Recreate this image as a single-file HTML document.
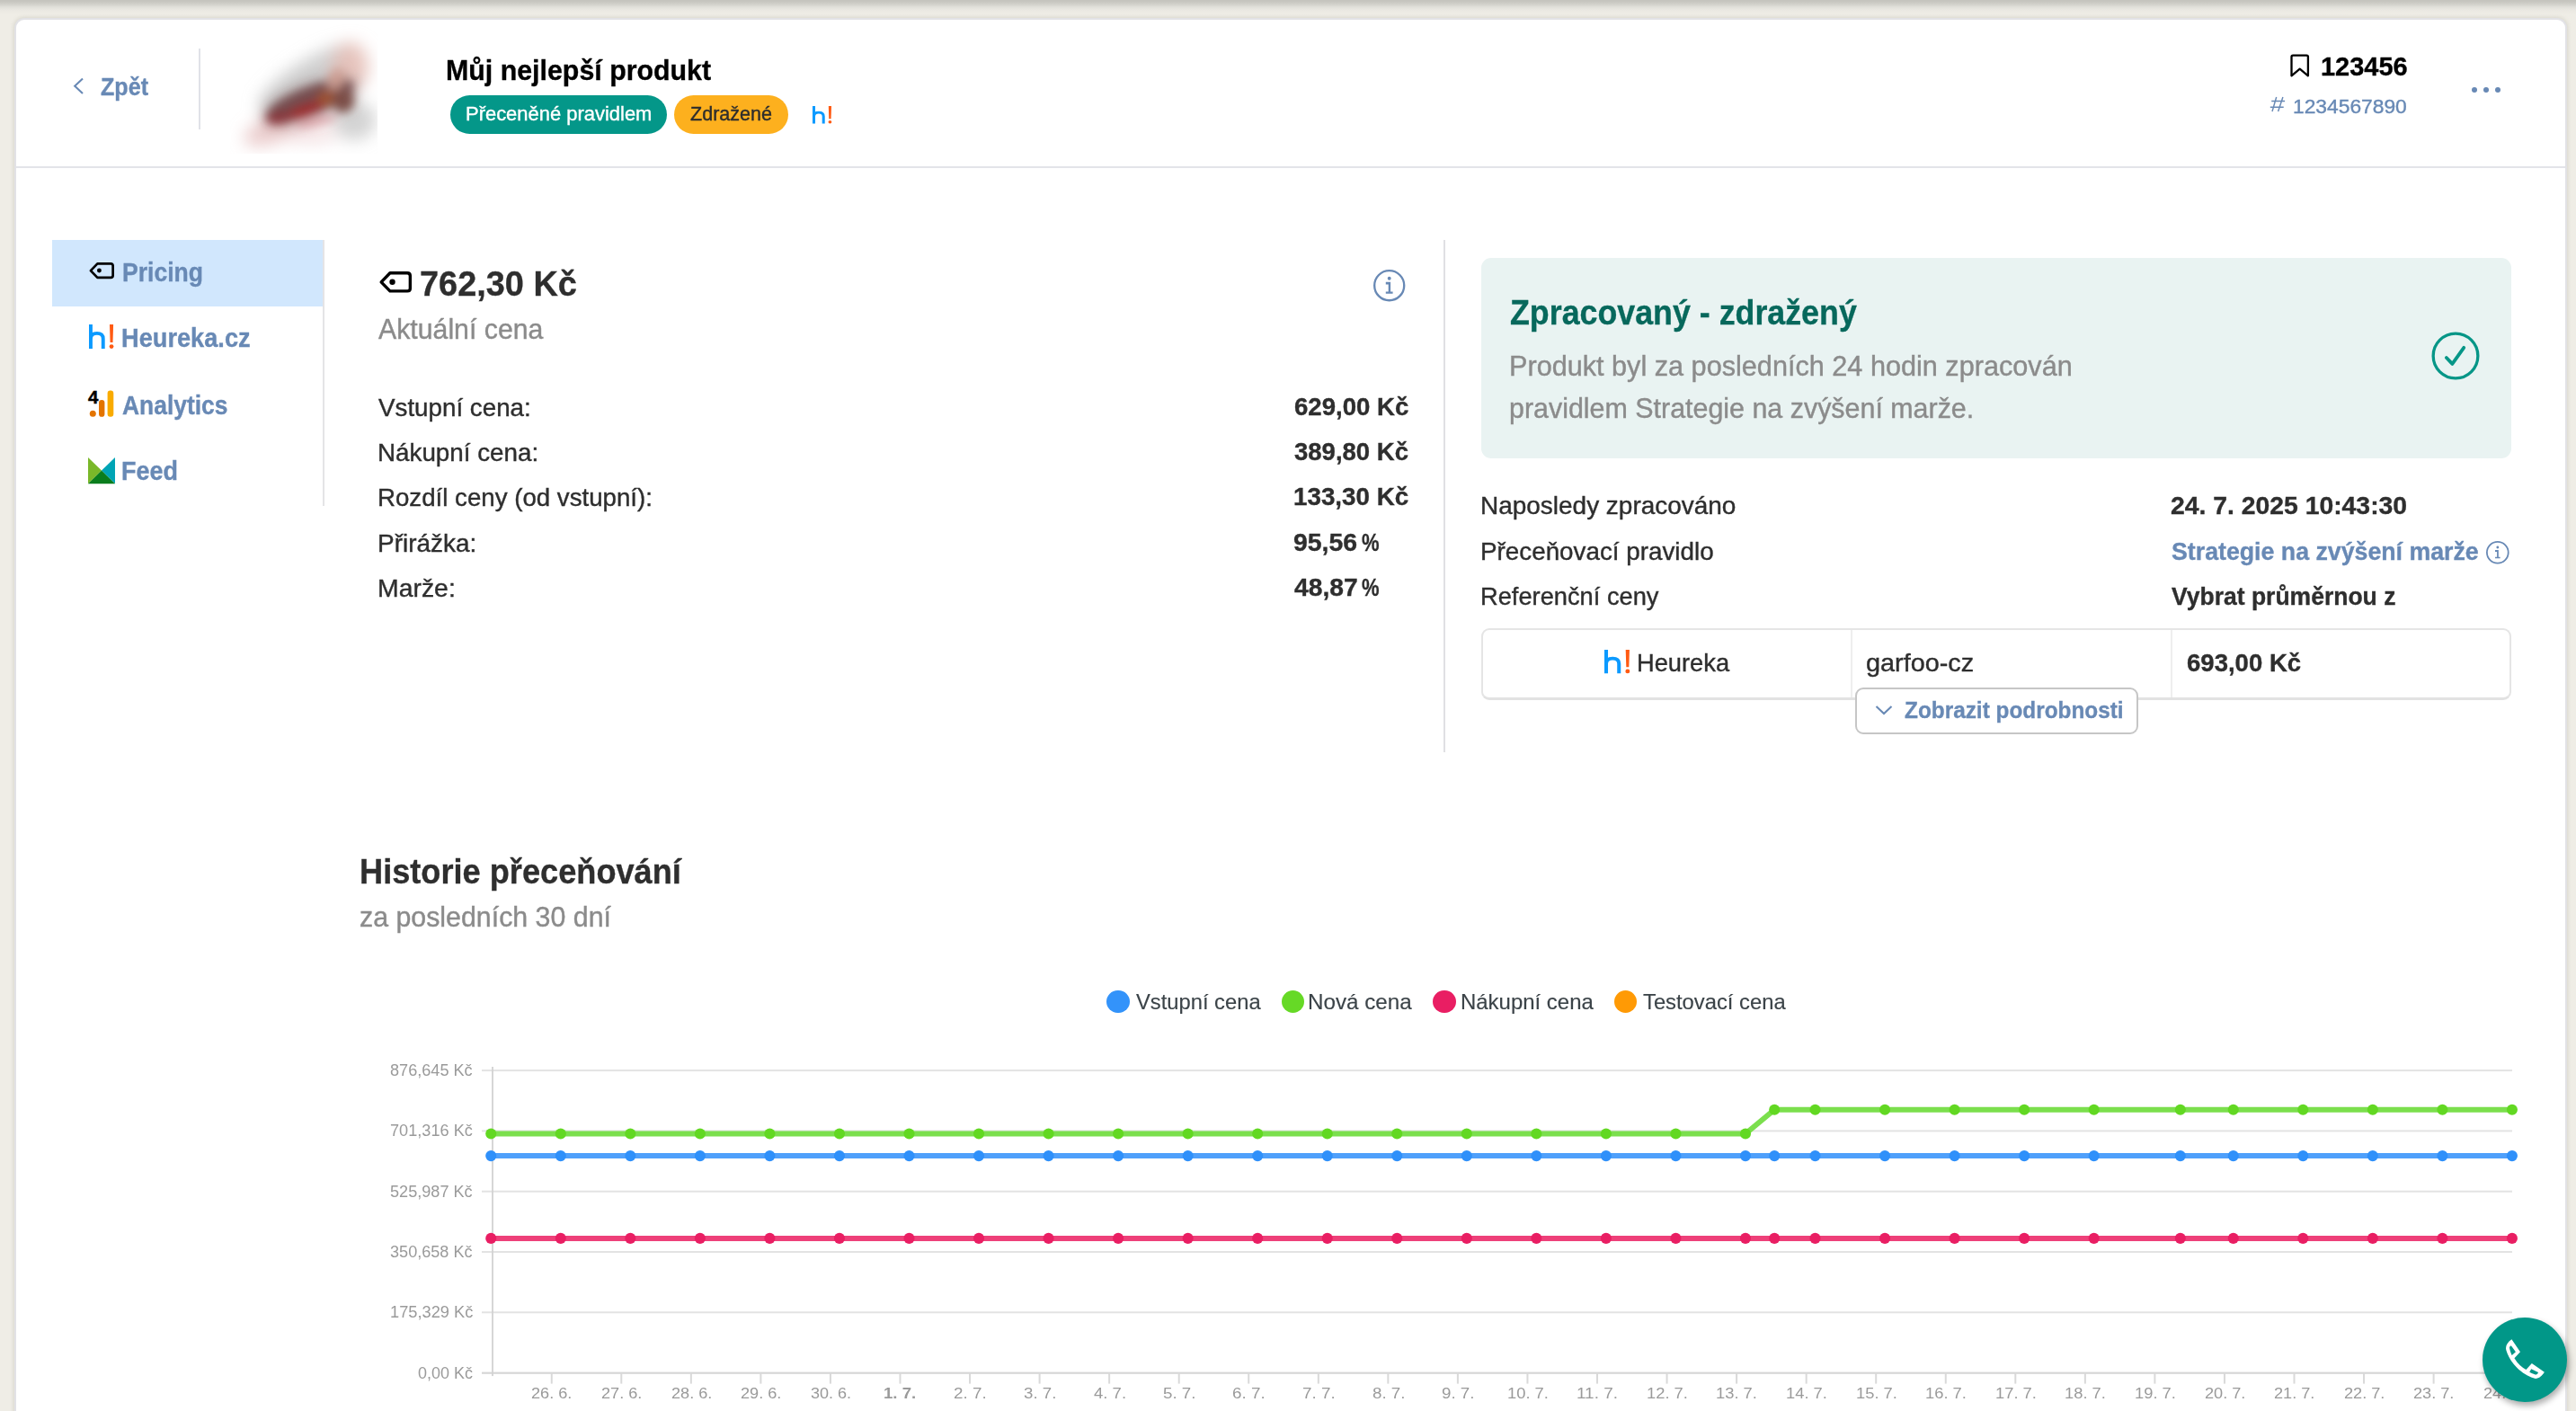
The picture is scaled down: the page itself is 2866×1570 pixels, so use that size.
<!DOCTYPE html>
<html><head><meta charset="utf-8"><title>Produkt</title><style>
*{margin:0;padding:0;box-sizing:border-box}
html,body{width:2866px;height:1570px;overflow:hidden}
body{background:#efede6;font-family:"Liberation Sans",sans-serif;position:relative}
.t{position:absolute;white-space:nowrap;line-height:1;transform-origin:0 0}
.a{position:absolute}
svg{position:absolute;overflow:visible}
</style></head><body>
<div class="a" style="left:0;top:0;width:2866px;height:17px;background:linear-gradient(#c4c3bd 0,#c8c7c1 2px,#d3d2cc 5px,#e1e0da 8px,#eae8e2 11px,#efede6 16px)"></div>
<div class="a" style="left:18px;top:22px;width:2836px;height:1600px;background:#fff;border-radius:9px 9px 0 0;box-shadow:0 0 0 2px #e2e2e6, 0 0 5px 2px rgba(140,140,115,.32)"></div>
<div class="a" style="left:18px;top:184.5px;width:2836px;height:2px;background:#e3e4e9"></div>
<div class="a" style="left:220.5px;top:54px;width:2px;height:90px;background:#e0e2e8"></div>
<svg class="a" style="left:78px;top:84px" width="20" height="24" viewBox="78 84 20 24"><path d="M92 87.4L83.2 95.7L92 104" fill="none" stroke="#6889b5" stroke-width="2.1"/></svg>
<div class="t" style="left:111.80px;top:84px;font-size:26.8px;font-weight:700;-webkit-text-stroke:0.35px #6889b5;color:#6889b5;transform:scaleX(0.9373);">Zpět</div>
<svg class="a" style="left:240px;top:24px" width="190" height="156" viewBox="240 24 190 156">
<defs><filter id="b1" x="-50%" y="-50%" width="200%" height="200%"><feGaussianBlur stdDeviation="9"/></filter>
<filter id="b2" x="-50%" y="-50%" width="200%" height="200%"><feGaussianBlur stdDeviation="5.5"/></filter>
<clipPath id="pc"><rect x="256" y="26" width="164" height="145"/></clipPath></defs>
<g clip-path="url(#pc)">
<g filter="url(#b1)">
<ellipse cx="340" cy="86" rx="62" ry="17" transform="rotate(-33 340 86)" fill="#bcbcbc" opacity=".7"/>
<ellipse cx="390" cy="74" rx="20" ry="27" fill="#e4bcb4" opacity=".85"/>
<ellipse cx="394" cy="134" rx="24" ry="22" fill="#c0c0c0" opacity=".7"/>
<ellipse cx="302" cy="146" rx="32" ry="14" transform="rotate(-18 302 146)" fill="#e4bcbc" opacity=".75"/>
<ellipse cx="345" cy="150" rx="30" ry="10" fill="#ecd0d2" opacity=".6"/>
<ellipse cx="345" cy="113" rx="56" ry="18" transform="rotate(-21 345 113)" fill="#8a6a6a" opacity=".8"/>
</g>
<g filter="url(#b2)">
<ellipse cx="345" cy="112" rx="51" ry="14.5" transform="rotate(-21 345 112)" fill="#72494c" opacity=".95"/>
<ellipse cx="340" cy="122" rx="27" ry="5.5" transform="rotate(-20 340 122)" fill="#a42222" opacity=".9"/>
<ellipse cx="311" cy="131" rx="15" ry="6" transform="rotate(-8 311 131)" fill="#8a3038"/>
<ellipse cx="365" cy="109" rx="12" ry="8" fill="#a2542f" opacity=".9"/>
<ellipse cx="382" cy="112" rx="12" ry="13" fill="#7c4e46"/>
<ellipse cx="374" cy="88" rx="9" ry="13" transform="rotate(25 374 88)" fill="#cfa094" opacity=".9"/>
<ellipse cx="352" cy="135" rx="24" ry="5" transform="rotate(-12 352 135)" fill="#c9626c" opacity=".5"/>
</g></g></svg>
<div class="t" style="left:495.98px;top:63px;font-size:31.9px;font-weight:700;-webkit-text-stroke:0.35px #000;color:#000;transform:scaleX(0.9517);">Můj nejlepší produkt</div>
<div class="a" style="left:500.5px;top:106px;width:241.5px;height:42.5px;border-radius:22px;background:#049789"></div>
<div class="t" style="left:517.69px;top:115px;font-size:22.7px;-webkit-text-stroke:0.4px #fff;color:#fff;transform:scaleX(0.9673);">Přeceněné pravidlem</div>
<div class="a" style="left:750px;top:106px;width:127px;height:42.5px;border-radius:22px;background:#fdb01e"></div>
<div class="t" style="left:768.04px;top:115px;font-size:22.7px;-webkit-text-stroke:0.4px #2d2d2d;color:#2d2d2d;transform:scaleX(0.9504);">Zdražené</div>
<svg class="a" style="left:903.75px;top:118px" width="21.25" height="19.5" viewBox="0 0 27.4 27" preserveAspectRatio="none"><path d="M1.95 0V27 M1.95 16C1.95 11.5 5 9.9 8.9 9.9C12.8 9.9 15.75 11.5 15.75 16V27" fill="none" stroke="#0c9aff" stroke-width="3.9"/><path d="M23 0H27.1L26.5 19.9H23.6Z" fill="#ff5a12"/><circle cx="25.05" cy="24.6" r="2.4" fill="#ff5a12"/></svg>
<svg class="a" style="left:2546px;top:58px" width="26" height="30" viewBox="2546 58 26 30"><path d="M2549.5 84.3V63.2Q2549.5 61.6 2551.1 61.6H2566.3Q2567.9 61.6 2567.9 63.2V84.3L2558.7 76.6Z" fill="none" stroke="#000" stroke-width="2.3" stroke-linejoin="round"/></svg>
<div class="t" style="left:2581.75px;top:59px;font-size:29.4px;font-weight:700;-webkit-text-stroke:0.35px #000;color:#000;transform:scaleX(0.9852);">123456</div>
<svg class="a" style="left:2520px;top:104px" width="28" height="24" viewBox="2520 104 28 24"><path d="M2532.7 108L2528 124M2539.9 108L2534.6 124M2527.2 112.5H2542.1M2525.8 119.3H2540.7" fill="none" stroke="#6889b5" stroke-width="1.45"/></svg>
<div class="t" style="left:2551.45px;top:107px;font-size:22.7px;-webkit-text-stroke:0.4px #6889b5;color:#6889b5;transform:scaleX(1.0048);">1234567890</div>
<div class="a" style="left:2749.5px;top:96.9px;width:6.2px;height:6.2px;border-radius:50%;background:#6889b5"></div>
<div class="a" style="left:2762.7000000000003px;top:96.9px;width:6.2px;height:6.2px;border-radius:50%;background:#6889b5"></div>
<div class="a" style="left:2776.0px;top:96.9px;width:6.2px;height:6.2px;border-radius:50%;background:#6889b5"></div>
<div class="a" style="left:58px;top:267px;width:301px;height:73.5px;background:#d1e7fd"></div>
<div class="a" style="left:359px;top:267px;width:2px;height:296px;background:#e4e4e6"></div>
<svg class="a" style="left:99px;top:291.9px" width="28" height="18.2" viewBox="0 0 28 18.2"><path d="M1.9 9.1L9.4 1.35H24.2Q26.65 1.35 26.65 3.8V14.4Q26.65 16.85 24.2 16.85H9.4Z" fill="none" stroke="#000" stroke-width="2.7" stroke-linejoin="round"/><circle cx="11.4" cy="9" r="2.45" fill="#000"/></svg>
<div class="t" style="left:135.77px;top:289px;font-size:28.8px;font-weight:700;-webkit-text-stroke:0.35px #6889b5;color:#6889b5;transform:scaleX(0.9223);">Pricing</div>
<svg class="a" style="left:99.3px;top:361.1px" width="27.4" height="27" viewBox="0 0 27.4 27" preserveAspectRatio="none"><path d="M1.95 0V27 M1.95 16C1.95 11.5 5 9.9 8.9 9.9C12.8 9.9 15.75 11.5 15.75 16V27" fill="none" stroke="#0c9aff" stroke-width="3.9"/><path d="M23 0H27.1L26.5 19.9H23.6Z" fill="#ff5a12"/><circle cx="25.05" cy="24.6" r="2.4" fill="#ff5a12"/></svg>
<div class="t" style="left:135.23px;top:362px;font-size:28.8px;font-weight:700;-webkit-text-stroke:0.35px #6889b5;color:#6889b5;transform:scaleX(0.9447);">Heureka.cz</div>
<svg class="a" style="left:98px;top:433px" width="30" height="32" viewBox="98 433 30 32">
<rect x="119.6" y="434.5" width="6.7" height="29.3" rx="3.2" fill="#f9ab00"/>
<rect x="110" y="445" width="6.4" height="18.8" rx="3.1" fill="#e37400"/>
<circle cx="103.3" cy="460.2" r="3.5" fill="#e37400"/>
<text x="97.9" y="448.8" font-family="Liberation Sans" font-weight="700" font-size="20.5" fill="#000" stroke="#000" stroke-width="0.5">4</text></svg>
<div class="t" style="left:135.56px;top:437px;font-size:28.8px;font-weight:700;-webkit-text-stroke:0.35px #6889b5;color:#6889b5;transform:scaleX(0.9171);">Analytics</div>
<svg class="a" style="left:98px;top:508.75px" width="30" height="29.25" viewBox="0 0 30 29.25">
<path d="M0 0L15 14.6L0 29.25Z" fill="#7ab829"/><path d="M30 0L15 14.6L30 29.25Z" fill="#00a4b5"/><path d="M0 29.25L15 14.6L30 29.25Z" fill="#0a7d1d"/></svg>
<div class="t" style="left:135.24px;top:510px;font-size:28.8px;font-weight:700;-webkit-text-stroke:0.35px #6889b5;color:#6889b5;transform:scaleX(0.9351);">Feed</div>
<svg class="a" style="left:421.2px;top:302px" width="37.8" height="23.7" viewBox="0 0 28 18.2"><path d="M1.9 9.1L9.4 1.35H24.2Q26.65 1.35 26.65 3.8V14.4Q26.65 16.85 24.2 16.85H9.4Z" fill="none" stroke="#000" stroke-width="2.6" stroke-linejoin="round"/><circle cx="11.4" cy="9" r="2.45" fill="#000"/></svg>
<div class="t" style="left:467.42px;top:296px;font-size:39.6px;font-weight:700;-webkit-text-stroke:0.35px #2e2e2e;color:#2e2e2e;transform:scaleX(0.9578);">762,30 Kč</div>
<div class="t" style="left:421.13px;top:352px;font-size:30.9px;-webkit-text-stroke:0.4px #8b8b8b;color:#8b8b8b;transform:scaleX(0.9798);">Aktuální cena</div>
<svg class="a" style="left:1526.3px;top:298.3px" width="39.4" height="39.4" viewBox="-19.7 -19.7 39.4 39.4"><circle cx="0" cy="0" r="16.525" fill="none" stroke="#6889b5" stroke-width="2.35"/><g transform="scale(1.0)" fill="#6889b5"><circle cx="0" cy="-8" r="1.95"/><path d="M-3.9 -4H1.4V6.9H3.9V9H-3.9V6.9H-1V-1.1H-3.9Z"/></g></svg>
<div class="t" style="left:421.47px;top:440px;font-size:27.8px;-webkit-text-stroke:0.4px #2e2e2e;color:#2e2e2e;transform:scaleX(0.9984);">Vstupní cena:</div>
<div class="t" style="left:420.25px;top:490px;font-size:27.8px;-webkit-text-stroke:0.4px #2e2e2e;color:#2e2e2e;transform:scaleX(0.9996);">Nákupní cena:</div>
<div class="t" style="left:420.26px;top:540px;font-size:27.8px;-webkit-text-stroke:0.4px #2e2e2e;color:#2e2e2e;transform:scaleX(0.9949);">Rozdíl ceny (od vstupní):</div>
<div class="t" style="left:420.23px;top:591px;font-size:27.8px;-webkit-text-stroke:0.4px #2e2e2e;color:#2e2e2e;transform:scaleX(1.0053);">Přirážka:</div>
<div class="t" style="left:420.20px;top:641px;font-size:27.8px;-webkit-text-stroke:0.4px #2e2e2e;color:#2e2e2e;transform:scaleX(1.0216);">Marže:</div>
<div class="t" style="left:1439.51px;top:439px;font-size:27.8px;font-weight:700;-webkit-text-stroke:0.35px #2e2e2e;color:#2e2e2e;transform:scaleX(0.9931);">629,00 Kč</div>
<div class="t" style="left:1439.88px;top:489px;font-size:27.8px;font-weight:700;-webkit-text-stroke:0.35px #2e2e2e;color:#2e2e2e;transform:scaleX(0.9901);">389,80 Kč</div>
<div class="t" style="left:1438.75px;top:539px;font-size:27.8px;font-weight:700;-webkit-text-stroke:0.35px #2e2e2e;color:#2e2e2e;transform:scaleX(0.9990);">133,30 Kč</div>
<div class="t" style="left:1439.48px;top:590px;font-size:27.8px;font-weight:700;-webkit-text-stroke:0.35px #2e2e2e;color:#2e2e2e;transform:scaleX(1.0219);">95,56</div>
<div class="t" style="left:1515.01px;top:590px;font-size:27.8px;font-weight:700;-webkit-text-stroke:0.35px #2e2e2e;color:#2e2e2e;transform:scaleX(0.7900);">%</div>
<div class="t" style="left:1440.12px;top:640px;font-size:27.8px;font-weight:700;-webkit-text-stroke:0.35px #2e2e2e;color:#2e2e2e;transform:scaleX(1.0162);">48,87</div>
<div class="t" style="left:1515.01px;top:640px;font-size:27.8px;font-weight:700;-webkit-text-stroke:0.35px #2e2e2e;color:#2e2e2e;transform:scaleX(0.7900);">%</div>
<div class="a" style="left:1606px;top:267px;width:2px;height:570px;background:#e0e0e3"></div>
<div class="a" style="left:1648px;top:287px;width:1146px;height:222.8px;border-radius:11px;background:#e9f3f2"></div>
<div class="t" style="left:1680.38px;top:328px;font-size:39.6px;font-weight:700;-webkit-text-stroke:0.35px #07685c;color:#07685c;transform:scaleX(0.9041);">Zpracovaný - zdražený</div>
<div class="t" style="left:1678.92px;top:393px;font-size:30.9px;-webkit-text-stroke:0.4px #8b8b8b;color:#8b8b8b;transform:scaleX(0.9917);">Produkt byl za posledních 24 hodin zpracován</div>
<div class="t" style="left:1679.43px;top:440px;font-size:30.9px;-webkit-text-stroke:0.4px #8b8b8b;color:#8b8b8b;transform:scaleX(0.9845);">pravidlem Strategie na zvýšení marže.</div>
<svg class="a" style="left:2702px;top:366px" width="60" height="60" viewBox="-30 -30 60 60">
<circle r="24.85" fill="none" stroke="#069687" stroke-width="3.3"/>
<path d="M-10.2 2L-3.6 8.9L9.2 -9.2" fill="none" stroke="#069687" stroke-width="3.8" stroke-linecap="round" stroke-linejoin="round"/></svg>
<div class="t" style="left:1647.23px;top:549px;font-size:27.8px;-webkit-text-stroke:0.4px #2e2e2e;color:#2e2e2e;transform:scaleX(1.0058);">Naposledy zpracováno</div>
<div class="t" style="left:1647.25px;top:600px;font-size:27.8px;-webkit-text-stroke:0.4px #2e2e2e;color:#2e2e2e;transform:scaleX(1.0002);">Přeceňovací pravidlo</div>
<div class="t" style="left:1647.29px;top:650px;font-size:27.8px;-webkit-text-stroke:0.4px #2e2e2e;color:#2e2e2e;transform:scaleX(0.9807);">Referenční ceny</div>
<div class="t" style="left:2415.48px;top:549px;font-size:27.8px;font-weight:700;-webkit-text-stroke:0.35px #2e2e2e;color:#2e2e2e;transform:scaleX(1.0193);">24. 7. 2025 10:43:30</div>
<div class="t" style="left:2415.78px;top:600px;font-size:27.8px;font-weight:700;-webkit-text-stroke:0.35px #6889b5;color:#6889b5;transform:scaleX(0.9617);">Strategie na zvýšení marže</div>
<svg class="a" style="left:2764.2px;top:600.0px" width="29.6" height="29.6" viewBox="-14.8 -14.8 29.6 29.6"><circle cx="0" cy="0" r="11.9" fill="none" stroke="#6889b5" stroke-width="1.8"/><g transform="scale(0.7231638418079097)" fill="#6889b5"><circle cx="0" cy="-8" r="1.95"/><path d="M-3.9 -4H1.4V6.9H3.9V9H-3.9V6.9H-1V-1.1H-3.9Z"/></g></svg>
<div class="t" style="left:2416.26px;top:650px;font-size:27.8px;font-weight:700;-webkit-text-stroke:0.35px #2e2e2e;color:#2e2e2e;transform:scaleX(0.9537);">Vybrat průměrnou z</div>
<div class="a" style="left:1648px;top:699px;width:1146px;height:79.5px;border-radius:9px;border:2px solid #e5e5e5;border-bottom:3.5px solid #e2e2e2;background:#fff"></div>
<div class="a" style="left:2059.4px;top:701px;width:1.4px;height:75px;background:#eeeeee"></div>
<div class="a" style="left:2415.2px;top:701px;width:1.4px;height:75px;background:#eeeeee"></div>
<svg class="a" style="left:1785px;top:722.5px" width="28.25" height="26.25" viewBox="0 0 27.4 27" preserveAspectRatio="none"><path d="M1.95 0V27 M1.95 16C1.95 11.5 5 9.9 8.9 9.9C12.8 9.9 15.75 11.5 15.75 16V27" fill="none" stroke="#0c9aff" stroke-width="3.9"/><path d="M23 0H27.1L26.5 19.9H23.6Z" fill="#ff5a12"/><circle cx="25.05" cy="24.6" r="2.4" fill="#ff5a12"/></svg>
<div class="t" style="left:1821.04px;top:724px;font-size:27.8px;-webkit-text-stroke:0.4px #2e2e2e;color:#2e2e2e;transform:scaleX(0.9812);">Heureka</div>
<div class="t" style="left:2076.33px;top:724px;font-size:27.8px;-webkit-text-stroke:0.4px #2e2e2e;color:#2e2e2e;transform:scaleX(1.0368);">garfoo-cz</div>
<div class="t" style="left:2433.01px;top:724px;font-size:27.8px;font-weight:700;-webkit-text-stroke:0.35px #2e2e2e;color:#2e2e2e;transform:scaleX(0.9907);">693,00 Kč</div>
<div class="a" style="left:2063.5px;top:765px;width:315.6px;height:51.6px;border-radius:9px;border:2px solid #c6c6c6;background:#fff"></div>
<svg class="a" style="left:2084px;top:782px" width="24" height="16" viewBox="2084 782 24 16"><path d="M2087.5 786L2096 794L2104.5 786" fill="none" stroke="#6889b5" stroke-width="2.1"/></svg>
<div class="t" style="left:2118.81px;top:777px;font-size:26.4px;font-weight:700;-webkit-text-stroke:0.35px #6889b5;color:#6889b5;transform:scaleX(0.9232);">Zobrazit podrobnosti</div>
<div class="t" style="left:399.60px;top:950px;font-size:39.6px;font-weight:700;-webkit-text-stroke:0.35px #2e2e2e;color:#2e2e2e;transform:scaleX(0.9141);">Historie přeceňování</div>
<div class="t" style="left:400.02px;top:1006px;font-size:30.9px;-webkit-text-stroke:0.4px #8b8b8b;color:#8b8b8b;transform:scaleX(0.9820);">za posledních 30 dní</div>
<div class="a" style="left:1231.2px;top:1101.7px;width:25.4px;height:25.4px;border-radius:50%;background:#3393fa"></div>
<div class="t" style="left:1263.58px;top:1103px;font-size:24px;-webkit-text-stroke:0.15px #3b4348;color:#3b4348;transform:scaleX(0.9893);">Vstupní cena</div>
<div class="a" style="left:1426.1px;top:1101.7px;width:25.4px;height:25.4px;border-radius:50%;background:#66d926"></div>
<div class="t" style="left:1455.18px;top:1103px;font-size:24px;-webkit-text-stroke:0.15px #3b4348;color:#3b4348;transform:scaleX(1.0084);">Nová cena</div>
<div class="a" style="left:1594.2px;top:1101.7px;width:25.4px;height:25.4px;border-radius:50%;background:#e91e63"></div>
<div class="t" style="left:1624.60px;top:1103px;font-size:24px;-webkit-text-stroke:0.15px #3b4348;color:#3b4348;transform:scaleX(0.9978);">Nákupní cena</div>
<div class="a" style="left:1796.0px;top:1101.7px;width:25.4px;height:25.4px;border-radius:50%;background:#ff9a05"></div>
<div class="t" style="left:1828.30px;top:1103px;font-size:24px;-webkit-text-stroke:0.15px #3b4348;color:#3b4348;transform:scaleX(0.9911);">Testovací cena</div>
<svg class="a" style="left:0;top:1150px" width="2866" height="420" viewBox="0 1150 2866 420"><rect x="536" y="1459.30" width="2259" height="2" fill="#e3e3e3"/><rect x="536" y="1392.00" width="2259" height="2" fill="#e3e3e3"/><rect x="536" y="1324.70" width="2259" height="2" fill="#e3e3e3"/><rect x="536" y="1257.40" width="2259" height="2" fill="#e3e3e3"/><rect x="536" y="1190.10" width="2259" height="2" fill="#e3e3e3"/><rect x="536" y="1526.60" width="2259" height="2.2" fill="#d6d6d6"/><rect x="547.1" y="1187" width="1.8" height="344.10" fill="#d2d2d2"/><rect x="612.75" y="1527.60" width="2" height="12" fill="#d9d9d9"/><rect x="690.30" y="1527.60" width="2" height="12" fill="#d9d9d9"/><rect x="767.85" y="1527.60" width="2" height="12" fill="#d9d9d9"/><rect x="845.40" y="1527.60" width="2" height="12" fill="#d9d9d9"/><rect x="922.95" y="1527.60" width="2" height="12" fill="#d9d9d9"/><rect x="1000.50" y="1527.60" width="2" height="12" fill="#d9d9d9"/><rect x="1078.05" y="1527.60" width="2" height="12" fill="#d9d9d9"/><rect x="1155.60" y="1527.60" width="2" height="12" fill="#d9d9d9"/><rect x="1233.15" y="1527.60" width="2" height="12" fill="#d9d9d9"/><rect x="1310.70" y="1527.60" width="2" height="12" fill="#d9d9d9"/><rect x="1388.25" y="1527.60" width="2" height="12" fill="#d9d9d9"/><rect x="1465.80" y="1527.60" width="2" height="12" fill="#d9d9d9"/><rect x="1543.35" y="1527.60" width="2" height="12" fill="#d9d9d9"/><rect x="1620.90" y="1527.60" width="2" height="12" fill="#d9d9d9"/><rect x="1698.45" y="1527.60" width="2" height="12" fill="#d9d9d9"/><rect x="1776.00" y="1527.60" width="2" height="12" fill="#d9d9d9"/><rect x="1853.55" y="1527.60" width="2" height="12" fill="#d9d9d9"/><rect x="1931.10" y="1527.60" width="2" height="12" fill="#d9d9d9"/><rect x="2008.65" y="1527.60" width="2" height="12" fill="#d9d9d9"/><rect x="2086.20" y="1527.60" width="2" height="12" fill="#d9d9d9"/><rect x="2163.75" y="1527.60" width="2" height="12" fill="#d9d9d9"/><rect x="2241.30" y="1527.60" width="2" height="12" fill="#d9d9d9"/><rect x="2318.85" y="1527.60" width="2" height="12" fill="#d9d9d9"/><rect x="2396.40" y="1527.60" width="2" height="12" fill="#d9d9d9"/><rect x="2473.95" y="1527.60" width="2" height="12" fill="#d9d9d9"/><rect x="2551.50" y="1527.60" width="2" height="12" fill="#d9d9d9"/><rect x="2629.05" y="1527.60" width="2" height="12" fill="#d9d9d9"/><rect x="2706.60" y="1527.60" width="2" height="12" fill="#d9d9d9"/><rect x="2784.15" y="1527.60" width="2" height="12" fill="#d9d9d9"/><path d="M546.25 1261.50 L623.79 1261.50 L701.33 1261.50 L778.87 1261.50 L856.41 1261.50 L933.95 1261.50 L1011.49 1261.50 L1089.03 1261.50 L1166.57 1261.50 L1244.11 1261.50 L1321.65 1261.50 L1399.19 1261.50 L1476.73 1261.50 L1554.27 1261.50 L1631.81 1261.50 L1709.35 1261.50 L1786.89 1261.50 L1864.43 1261.50 L1941.97 1261.50 L1974.20 1234.80 L2019.51 1234.80 L2097.05 1234.80 L2174.59 1234.80 L2252.13 1234.80 L2329.67 1234.80 L2425.80 1234.80 L2484.75 1234.80 L2562.29 1234.80 L2639.83 1234.80 L2717.37 1234.80 L2794.91 1234.80" fill="none" stroke="#7bdf4d" stroke-width="6" stroke-linejoin="round"/><circle cx="546.25" cy="1261.50" r="6.05" fill="#62d822"/><circle cx="623.79" cy="1261.50" r="6.05" fill="#62d822"/><circle cx="701.33" cy="1261.50" r="6.05" fill="#62d822"/><circle cx="778.87" cy="1261.50" r="6.05" fill="#62d822"/><circle cx="856.41" cy="1261.50" r="6.05" fill="#62d822"/><circle cx="933.95" cy="1261.50" r="6.05" fill="#62d822"/><circle cx="1011.49" cy="1261.50" r="6.05" fill="#62d822"/><circle cx="1089.03" cy="1261.50" r="6.05" fill="#62d822"/><circle cx="1166.57" cy="1261.50" r="6.05" fill="#62d822"/><circle cx="1244.11" cy="1261.50" r="6.05" fill="#62d822"/><circle cx="1321.65" cy="1261.50" r="6.05" fill="#62d822"/><circle cx="1399.19" cy="1261.50" r="6.05" fill="#62d822"/><circle cx="1476.73" cy="1261.50" r="6.05" fill="#62d822"/><circle cx="1554.27" cy="1261.50" r="6.05" fill="#62d822"/><circle cx="1631.81" cy="1261.50" r="6.05" fill="#62d822"/><circle cx="1709.35" cy="1261.50" r="6.05" fill="#62d822"/><circle cx="1786.89" cy="1261.50" r="6.05" fill="#62d822"/><circle cx="1864.43" cy="1261.50" r="6.05" fill="#62d822"/><circle cx="1941.97" cy="1261.50" r="6.05" fill="#62d822"/><circle cx="1974.20" cy="1234.80" r="6.05" fill="#62d822"/><circle cx="2019.51" cy="1234.80" r="6.05" fill="#62d822"/><circle cx="2097.05" cy="1234.80" r="6.05" fill="#62d822"/><circle cx="2174.59" cy="1234.80" r="6.05" fill="#62d822"/><circle cx="2252.13" cy="1234.80" r="6.05" fill="#62d822"/><circle cx="2329.67" cy="1234.80" r="6.05" fill="#62d822"/><circle cx="2425.80" cy="1234.80" r="6.05" fill="#62d822"/><circle cx="2484.75" cy="1234.80" r="6.05" fill="#62d822"/><circle cx="2562.29" cy="1234.80" r="6.05" fill="#62d822"/><circle cx="2639.83" cy="1234.80" r="6.05" fill="#62d822"/><circle cx="2717.37" cy="1234.80" r="6.05" fill="#62d822"/><circle cx="2794.91" cy="1234.80" r="6.05" fill="#62d822"/><path d="M546.25 1286.10 L623.79 1286.10 L701.33 1286.10 L778.87 1286.10 L856.41 1286.10 L933.95 1286.10 L1011.49 1286.10 L1089.03 1286.10 L1166.57 1286.10 L1244.11 1286.10 L1321.65 1286.10 L1399.19 1286.10 L1476.73 1286.10 L1554.27 1286.10 L1631.81 1286.10 L1709.35 1286.10 L1786.89 1286.10 L1864.43 1286.10 L1941.97 1286.10 L1974.20 1286.10 L2019.51 1286.10 L2097.05 1286.10 L2174.59 1286.10 L2252.13 1286.10 L2329.67 1286.10 L2425.80 1286.10 L2484.75 1286.10 L2562.29 1286.10 L2639.83 1286.10 L2717.37 1286.10 L2794.91 1286.10" fill="none" stroke="#4fa0fb" stroke-width="6" stroke-linejoin="round"/><circle cx="546.25" cy="1286.10" r="6.05" fill="#2f90fa"/><circle cx="623.79" cy="1286.10" r="6.05" fill="#2f90fa"/><circle cx="701.33" cy="1286.10" r="6.05" fill="#2f90fa"/><circle cx="778.87" cy="1286.10" r="6.05" fill="#2f90fa"/><circle cx="856.41" cy="1286.10" r="6.05" fill="#2f90fa"/><circle cx="933.95" cy="1286.10" r="6.05" fill="#2f90fa"/><circle cx="1011.49" cy="1286.10" r="6.05" fill="#2f90fa"/><circle cx="1089.03" cy="1286.10" r="6.05" fill="#2f90fa"/><circle cx="1166.57" cy="1286.10" r="6.05" fill="#2f90fa"/><circle cx="1244.11" cy="1286.10" r="6.05" fill="#2f90fa"/><circle cx="1321.65" cy="1286.10" r="6.05" fill="#2f90fa"/><circle cx="1399.19" cy="1286.10" r="6.05" fill="#2f90fa"/><circle cx="1476.73" cy="1286.10" r="6.05" fill="#2f90fa"/><circle cx="1554.27" cy="1286.10" r="6.05" fill="#2f90fa"/><circle cx="1631.81" cy="1286.10" r="6.05" fill="#2f90fa"/><circle cx="1709.35" cy="1286.10" r="6.05" fill="#2f90fa"/><circle cx="1786.89" cy="1286.10" r="6.05" fill="#2f90fa"/><circle cx="1864.43" cy="1286.10" r="6.05" fill="#2f90fa"/><circle cx="1941.97" cy="1286.10" r="6.05" fill="#2f90fa"/><circle cx="1974.20" cy="1286.10" r="6.05" fill="#2f90fa"/><circle cx="2019.51" cy="1286.10" r="6.05" fill="#2f90fa"/><circle cx="2097.05" cy="1286.10" r="6.05" fill="#2f90fa"/><circle cx="2174.59" cy="1286.10" r="6.05" fill="#2f90fa"/><circle cx="2252.13" cy="1286.10" r="6.05" fill="#2f90fa"/><circle cx="2329.67" cy="1286.10" r="6.05" fill="#2f90fa"/><circle cx="2425.80" cy="1286.10" r="6.05" fill="#2f90fa"/><circle cx="2484.75" cy="1286.10" r="6.05" fill="#2f90fa"/><circle cx="2562.29" cy="1286.10" r="6.05" fill="#2f90fa"/><circle cx="2639.83" cy="1286.10" r="6.05" fill="#2f90fa"/><circle cx="2717.37" cy="1286.10" r="6.05" fill="#2f90fa"/><circle cx="2794.91" cy="1286.10" r="6.05" fill="#2f90fa"/><path d="M546.25 1377.90 L623.79 1377.90 L701.33 1377.90 L778.87 1377.90 L856.41 1377.90 L933.95 1377.90 L1011.49 1377.90 L1089.03 1377.90 L1166.57 1377.90 L1244.11 1377.90 L1321.65 1377.90 L1399.19 1377.90 L1476.73 1377.90 L1554.27 1377.90 L1631.81 1377.90 L1709.35 1377.90 L1786.89 1377.90 L1864.43 1377.90 L1941.97 1377.90 L1974.20 1377.90 L2019.51 1377.90 L2097.05 1377.90 L2174.59 1377.90 L2252.13 1377.90 L2329.67 1377.90 L2425.80 1377.90 L2484.75 1377.90 L2562.29 1377.90 L2639.83 1377.90 L2717.37 1377.90 L2794.91 1377.90" fill="none" stroke="#ee4079" stroke-width="6" stroke-linejoin="round"/><circle cx="546.25" cy="1377.90" r="6.05" fill="#e91e63"/><circle cx="623.79" cy="1377.90" r="6.05" fill="#e91e63"/><circle cx="701.33" cy="1377.90" r="6.05" fill="#e91e63"/><circle cx="778.87" cy="1377.90" r="6.05" fill="#e91e63"/><circle cx="856.41" cy="1377.90" r="6.05" fill="#e91e63"/><circle cx="933.95" cy="1377.90" r="6.05" fill="#e91e63"/><circle cx="1011.49" cy="1377.90" r="6.05" fill="#e91e63"/><circle cx="1089.03" cy="1377.90" r="6.05" fill="#e91e63"/><circle cx="1166.57" cy="1377.90" r="6.05" fill="#e91e63"/><circle cx="1244.11" cy="1377.90" r="6.05" fill="#e91e63"/><circle cx="1321.65" cy="1377.90" r="6.05" fill="#e91e63"/><circle cx="1399.19" cy="1377.90" r="6.05" fill="#e91e63"/><circle cx="1476.73" cy="1377.90" r="6.05" fill="#e91e63"/><circle cx="1554.27" cy="1377.90" r="6.05" fill="#e91e63"/><circle cx="1631.81" cy="1377.90" r="6.05" fill="#e91e63"/><circle cx="1709.35" cy="1377.90" r="6.05" fill="#e91e63"/><circle cx="1786.89" cy="1377.90" r="6.05" fill="#e91e63"/><circle cx="1864.43" cy="1377.90" r="6.05" fill="#e91e63"/><circle cx="1941.97" cy="1377.90" r="6.05" fill="#e91e63"/><circle cx="1974.20" cy="1377.90" r="6.05" fill="#e91e63"/><circle cx="2019.51" cy="1377.90" r="6.05" fill="#e91e63"/><circle cx="2097.05" cy="1377.90" r="6.05" fill="#e91e63"/><circle cx="2174.59" cy="1377.90" r="6.05" fill="#e91e63"/><circle cx="2252.13" cy="1377.90" r="6.05" fill="#e91e63"/><circle cx="2329.67" cy="1377.90" r="6.05" fill="#e91e63"/><circle cx="2425.80" cy="1377.90" r="6.05" fill="#e91e63"/><circle cx="2484.75" cy="1377.90" r="6.05" fill="#e91e63"/><circle cx="2562.29" cy="1377.90" r="6.05" fill="#e91e63"/><circle cx="2639.83" cy="1377.90" r="6.05" fill="#e91e63"/><circle cx="2717.37" cy="1377.90" r="6.05" fill="#e91e63"/><circle cx="2794.91" cy="1377.90" r="6.05" fill="#e91e63"/></svg>
<div class="t" style="left:464.86px;top:1520px;font-size:17.6px;color:#9a9a9a;transform:scaleX(1.0227);">0,00 Kč</div>
<div class="t" style="left:433.58px;top:1452px;font-size:17.6px;color:#9a9a9a;transform:scaleX(1.0372);">175,329 Kč</div>
<div class="t" style="left:434.36px;top:1385px;font-size:17.6px;color:#9a9a9a;transform:scaleX(1.0284);">350,658 Kč</div>
<div class="t" style="left:434.23px;top:1318px;font-size:17.6px;color:#9a9a9a;transform:scaleX(1.0299);">525,987 Kč</div>
<div class="t" style="left:434.10px;top:1250px;font-size:17.6px;color:#9a9a9a;transform:scaleX(1.0313);">701,316 Kč</div>
<div class="t" style="left:434.23px;top:1183px;font-size:17.6px;color:#9a9a9a;transform:scaleX(1.0299);">876,645 Kč</div>
<div class="t" style="left:591.47px;top:1542px;font-size:17px;color:#9a9a9a;transform:scaleX(1.0675);">26. 6.</div>
<div class="t" style="left:669.02px;top:1542px;font-size:17px;color:#9a9a9a;transform:scaleX(1.0675);">27. 6.</div>
<div class="t" style="left:746.57px;top:1542px;font-size:17px;color:#9a9a9a;transform:scaleX(1.0675);">28. 6.</div>
<div class="t" style="left:824.12px;top:1542px;font-size:17px;color:#9a9a9a;transform:scaleX(1.0675);">29. 6.</div>
<div class="t" style="left:901.94px;top:1542px;font-size:17px;color:#9a9a9a;transform:scaleX(1.0609);">30. 6.</div>
<div class="t" style="left:983.40px;top:1542px;font-size:17px;font-weight:700;color:#9a9a9a;transform:scaleX(1.0968);">1. 7.</div>
<div class="t" style="left:1061.13px;top:1542px;font-size:17px;color:#9a9a9a;transform:scaleX(1.1069);">2. 7.</div>
<div class="t" style="left:1138.96px;top:1542px;font-size:17px;color:#9a9a9a;transform:scaleX(1.0980);">3. 7.</div>
<div class="t" style="left:1216.79px;top:1542px;font-size:17px;color:#9a9a9a;transform:scaleX(1.0892);">4. 7.</div>
<div class="t" style="left:1293.92px;top:1542px;font-size:17px;color:#9a9a9a;transform:scaleX(1.1024);">5. 7.</div>
<div class="t" style="left:1371.33px;top:1542px;font-size:17px;color:#9a9a9a;transform:scaleX(1.1069);">6. 7.</div>
<div class="t" style="left:1448.88px;top:1542px;font-size:17px;color:#9a9a9a;transform:scaleX(1.1069);">7. 7.</div>
<div class="t" style="left:1526.57px;top:1542px;font-size:17px;color:#9a9a9a;transform:scaleX(1.1024);">8. 7.</div>
<div class="t" style="left:1604.12px;top:1542px;font-size:17px;color:#9a9a9a;transform:scaleX(1.1024);">9. 7.</div>
<div class="t" style="left:1676.75px;top:1542px;font-size:17px;color:#9a9a9a;transform:scaleX(1.0776);">10. 7.</div>
<div class="t" style="left:1754.26px;top:1542px;font-size:17px;color:#9a9a9a;transform:scaleX(1.1127);">11. 7.</div>
<div class="t" style="left:1831.85px;top:1542px;font-size:17px;color:#9a9a9a;transform:scaleX(1.0776);">12. 7.</div>
<div class="t" style="left:1909.40px;top:1542px;font-size:17px;color:#9a9a9a;transform:scaleX(1.0776);">13. 7.</div>
<div class="t" style="left:1986.95px;top:1542px;font-size:17px;color:#9a9a9a;transform:scaleX(1.0776);">14. 7.</div>
<div class="t" style="left:2064.50px;top:1542px;font-size:17px;color:#9a9a9a;transform:scaleX(1.0776);">15. 7.</div>
<div class="t" style="left:2142.05px;top:1542px;font-size:17px;color:#9a9a9a;transform:scaleX(1.0776);">16. 7.</div>
<div class="t" style="left:2219.60px;top:1542px;font-size:17px;color:#9a9a9a;transform:scaleX(1.0776);">17. 7.</div>
<div class="t" style="left:2297.15px;top:1542px;font-size:17px;color:#9a9a9a;transform:scaleX(1.0776);">18. 7.</div>
<div class="t" style="left:2374.70px;top:1542px;font-size:17px;color:#9a9a9a;transform:scaleX(1.0776);">19. 7.</div>
<div class="t" style="left:2452.67px;top:1542px;font-size:17px;color:#9a9a9a;transform:scaleX(1.0675);">20. 7.</div>
<div class="t" style="left:2530.22px;top:1542px;font-size:17px;color:#9a9a9a;transform:scaleX(1.0675);">21. 7.</div>
<div class="t" style="left:2607.77px;top:1542px;font-size:17px;color:#9a9a9a;transform:scaleX(1.0675);">22. 7.</div>
<div class="t" style="left:2685.32px;top:1542px;font-size:17px;color:#9a9a9a;transform:scaleX(1.0675);">23. 7.</div>
<div class="t" style="left:2762.87px;top:1542px;font-size:17px;color:#9a9a9a;transform:scaleX(1.0675);">24. 7.</div>
<div class="a" style="left:2762px;top:1466px;width:93.8px;height:93.8px;border-radius:50%;background:#019788;box-shadow:2px 4px 7px rgba(0,0,0,.33)"></div>
<svg class="a" style="left:2750px;top:1455px" width="116" height="115" viewBox="0 0 1423 1411">
<path fill="#fff" fill-rule="evenodd" d="M545 432L662 605L582 690C630 770 690 820 742 848L820 762L992 880C960 930 920 968 870 968C700 930 520 760 470 580C455 520 490 470 545 432Z M537 518L600 604L548 650C530 610 518 570 515 545C515 535 525 525 537 518Z M812 838L908 882C900 905 885 915 868 914C840 905 812 895 788 880Z"/></svg>
<script>(function(){var w=window.innerWidth||2866;if(Math.abs(w-2866)>40){document.body.style.zoom=w/2866;}})();</script>
</body></html>
